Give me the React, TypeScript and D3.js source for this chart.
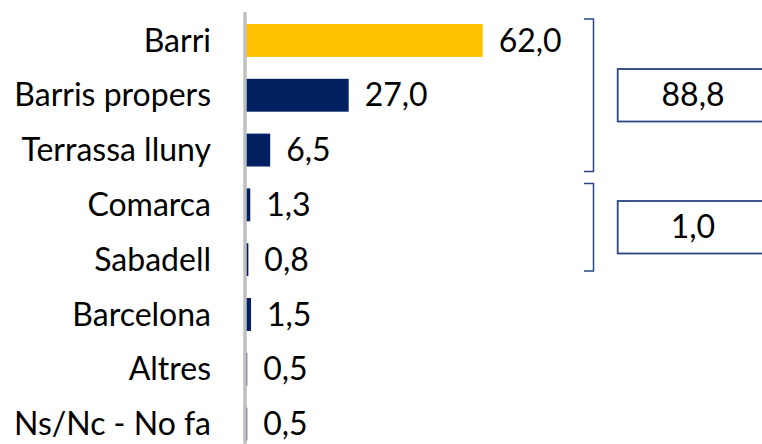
import React from "react";
import * as d3 from "d3";

const categories = ["Barri", "Barris propers", "Terrassa lluny", "Comarca", "Sabadell", "Barcelona", "Altres", "Ns/Nc - No fa"];
const values = [62.0, 27.0, 6.5, 1.3, 0.8, 1.5, 0.5, 0.5];
const highlight = ["Barri"];
const groupTotals = [88.8, 1.0];
const groupRanges: [string, string][] = [["Barri", "Terrassa lluny"], ["Comarca", "Sabadell"]];

const W = 762;
const H = 444;
const FONT = "Lato, 'Noto Sans', sans-serif";
const FS = 32;

const fmt = (v: number) => d3.format(".1f")(v).replace(".", ",");

export default function App() {
  const x = d3.scaleLinear().domain([0, 62]).range([245.3, 482.7]);
  const y = d3.scaleBand<string>().domain(categories).range([2.1, 462.4]).paddingInner(0.4).paddingOuter(0.4);
  const bw = y.bandwidth();
  const labelX = 211;

  const brackets = groupRanges.map(([a, b], i) => {
    const top = (y(a) as number) - 5;
    const bottom = i === 0 ? (y(b) as number) + bw + 5 : (y(b) as number) + bw - 5;
    return { top, bottom, total: groupTotals[i] };
  });

  return (
    <svg width={W} height={H} style={{ position: "absolute", left: 0, top: 0, background: "#fff" }}>
      {categories.map((c, i) => {
        const yy = y(c) as number;
        return (
          <g key={c}>
            <rect x={x(0)} y={yy} width={Math.max(0, x(values[i]) - x(0))} height={bw}
              fill={highlight.includes(c) ? "#FFC000" : "#002060"} />
            <text x={labelX} y={yy + bw / 2} dy="0.35em" textAnchor="end" fontFamily={FONT} fontSize={FS} fill="#000">{c}</text>
            <text x={x(values[i]) + 16} y={yy + bw / 2} dy="0.35em" fontFamily={FONT} fontSize={FS} fill="#000">{fmt(values[i])}</text>
          </g>
        );
      })}
      <line x1={245} x2={245} y1={12} y2={H} stroke="#BFBFBF" strokeWidth={3.5} />
      {brackets.map((b, i) => {
        const mid = (b.top + b.bottom) / 2;
        const bh = 52.5;
        return (
          <g key={i}>
            <path d={`M584,${b.top}H593.5V${b.bottom}H584`} fill="none" stroke="#2A4580" strokeWidth={1.5} />
            <rect x={617.7} y={mid - bh / 2} width={152} height={bh} fill="#fff" stroke="#2A4580" strokeWidth={1.8} />
            <text x={693} y={mid} dy="0.35em" textAnchor="middle" fontFamily={FONT} fontSize={FS} fill="#000">{fmt(b.total)}</text>
          </g>
        );
      })}
    </svg>
  );
}
